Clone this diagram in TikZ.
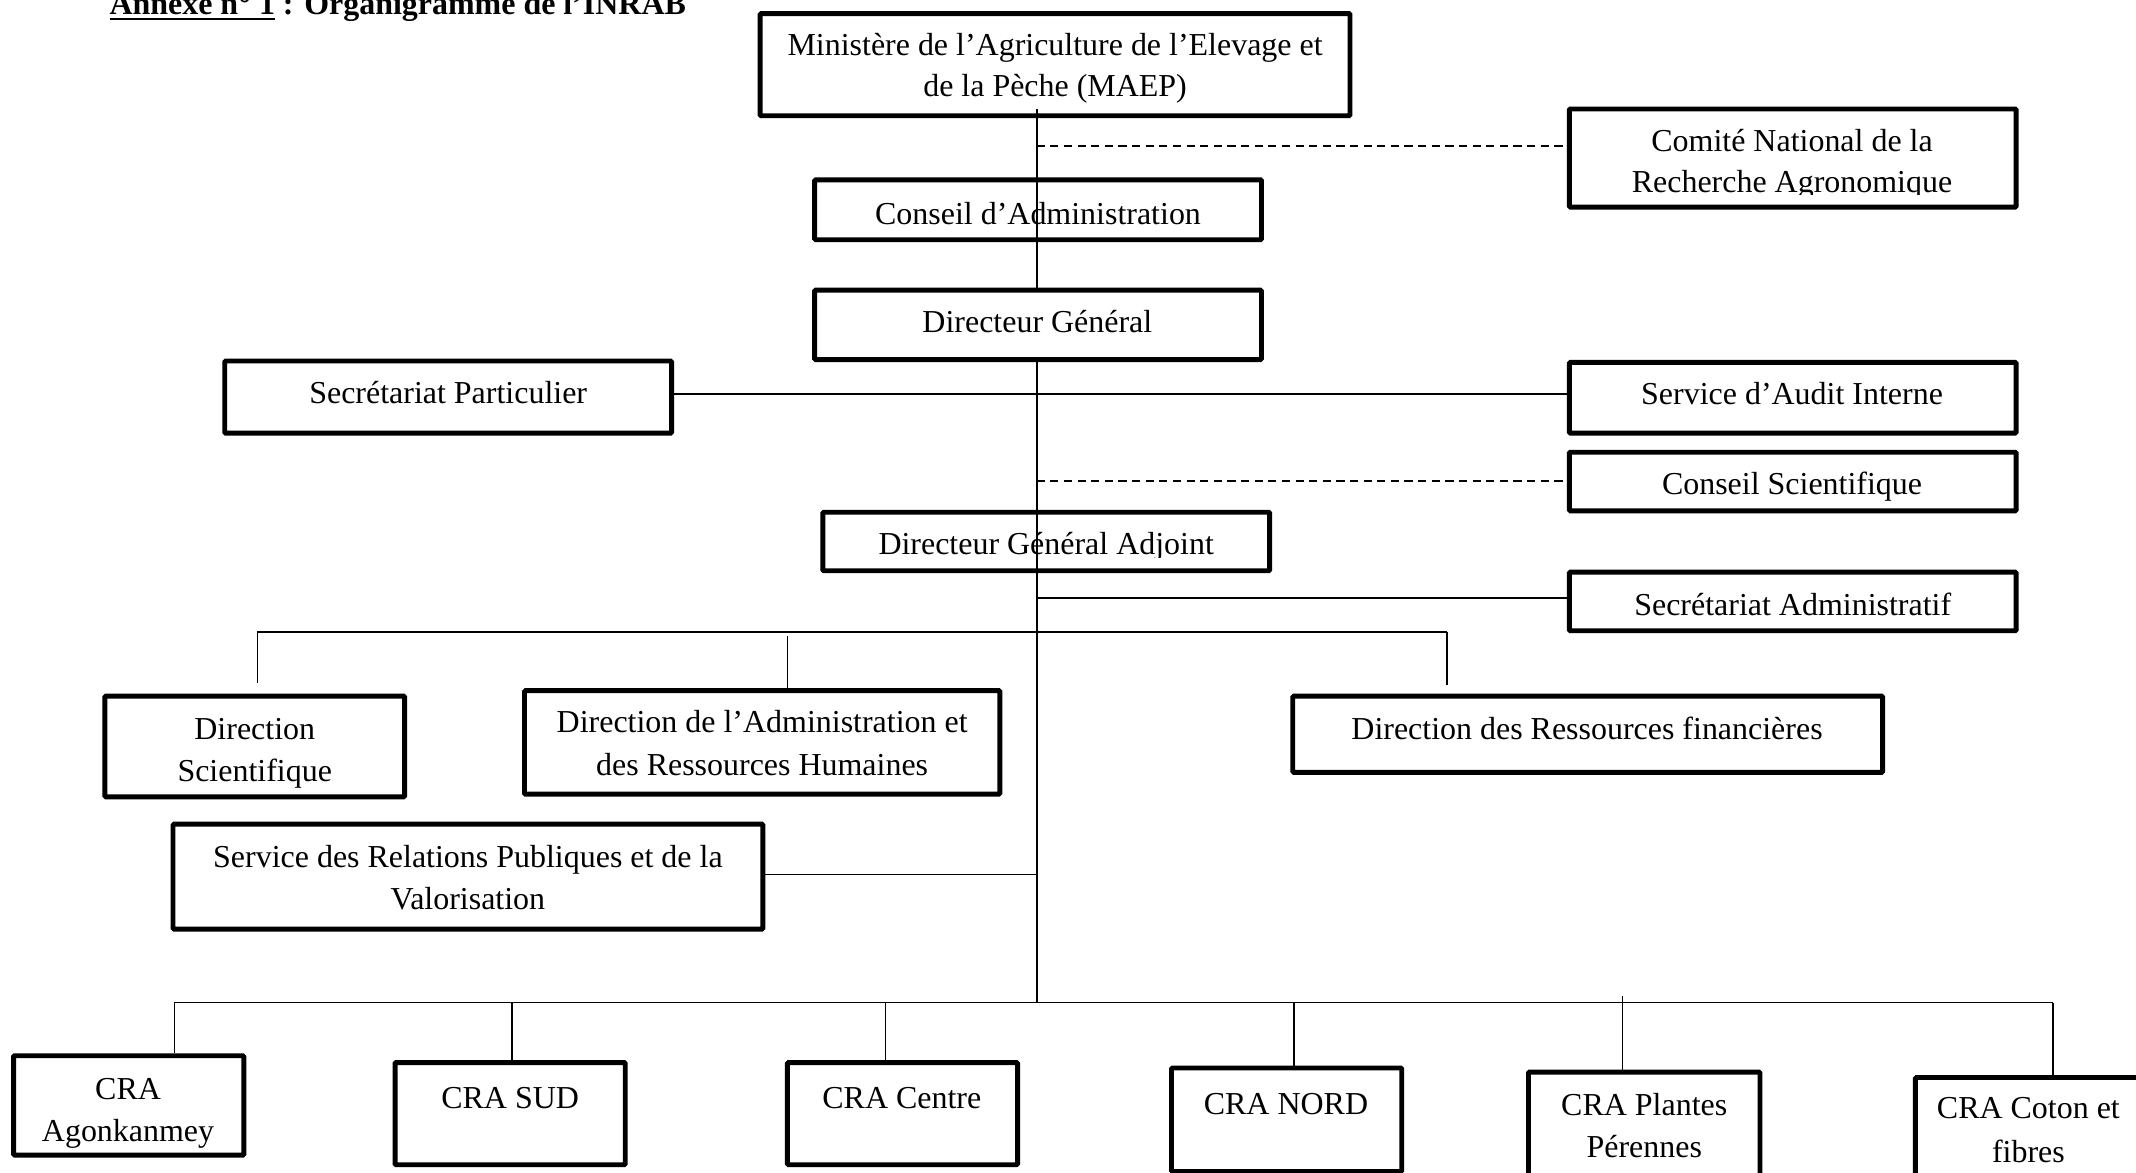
\documentclass[tikz,border=0pt]{standalone}
\usepackage{fontspec}
\setmainfont{Liberation Serif}
\usetikzlibrary{calc}
\begin{document}
\begin{tikzpicture}[x=0.5pt,y=-0.5pt,
  box/.style={draw,line width=1.8pt,inner sep=0pt,rounded corners=0.4pt},
  bsize/.style 2 args={minimum width=#1*0.5pt,minimum height=#2*0.5pt},
  txt/.style={inner sep=0pt,anchor=base,font=\fontsize{11.73pt}{15pt}\selectfont},
  conn/.style={line width=0.6pt},
  dsh/.style={line width=0.6pt,dash pattern=on 3pt off 2pt}]
\useasboundingbox (0,0) rectangle (1568,861);
\clip (0,0) rectangle (1568,861);

% title
\node[inner sep=0pt,anchor=base west,font=\fontsize{11.73pt}{15pt}\selectfont\bfseries] (title) at (80,11)
  {\setbox0\hbox{Annexe n° 1}\rlap{\rule[-2pt]{\wd0}{1pt}}\box0{} : Organigramme de l’INRAB};

% boxes (unfilled)
\node[box,bsize={433}{75}] (maep) at (774.5,47.5) {};
\node[box,bsize={328}{72}] (cnra) at (1316,116) {};
\node[box,bsize={328}{44}] (ca) at (762,154) {};
\node[box,bsize={328}{53}] (sp) at (329,291.5) {};
\node[box,bsize={328}{52}] (sai) at (1316,292) {};
\node[box,bsize={328}{43}] (cs) at (1316,353.5) {};
\node[box,bsize={328}{43}] (dga) at (768,397.5) {};
\node[box,bsize={328}{43}] (sa) at (1316,441.5) {};
\node[box,bsize={220}{74}] (ds) at (187,548) {};
\node[box,bsize={349}{76}] (darh) at (559.5,545) {};
\node[box,bsize={433}{56}] (drf) at (1165.5,539) {};
\node[box,bsize={433}{77}] (srpv) at (343.5,643.5) {};
\node[box,bsize={169}{73}] (cra1) at (94.5,811.5) {};
\node[box,bsize={169}{75}] (cra2) at (374.5,817.5) {};
\node[box,bsize={169}{75}] (cra3) at (662.5,817.5) {};
\node[box,bsize={169}{76}] (cra4) at (944.5,822) {};
\node[box,bsize={170}{80}] (cra5) at (1207,827) {};
\node[box,bsize={168}{80}] (cra6) at (1490,831) {};

% texts
\node[txt] (t-maep-1) at (774.5,41) {Ministère de l’Agriculture de l’Elevage et};
\node[txt] (t-maep-2) at (774.5,71) {de la Pèche (MAEP)};
\begin{scope}
  \clip (1150,70) rectangle (1482,143);
  \node[txt] (t-cnra-1) at (1315.5,111) {Comité National de la};
  \node[txt] (t-cnra-2) at (1315.5,141) {Recherche Agronomique};
\end{scope}
\node[txt] (t-ca) at (762,165) {Conseil d’Administration};
\node[txt] (t-sp) at (329,296) {Secrétariat Particulier};
\node[txt] (t-sai) at (1315.5,297) {Service d’Audit Interne};
\node[txt] (t-cs) at (1315.5,363) {Conseil Scientifique};
\begin{scope}
  \clip (600,370) rectangle (936,409.5);
  \node[txt] (t-dga) at (768,407) {Directeur Général Adjoint};
\end{scope}
\node[txt] (t-sa) at (1316,452) {Secrétariat Administratif};
\node[txt] (t-ds-1) at (187,543) {Direction};
\node[txt] (t-ds-2) at (187,574) {Scientifique};
\node[txt] (t-darh-1) at (559.5,538) {Direction de l’Administration et};
\node[txt] (t-darh-2) at (559.5,569) {des Ressources Humaines};
\node[txt] (t-drf) at (1165,543) {Direction des Ressources financières};
\node[txt] (t-srpv-1) at (343.5,637) {Service des Relations Publiques et de la};
\node[txt] (t-srpv-2) at (343.5,668) {Valorisation};
\node[txt] (t-cra1-1) at (94,807) {CRA};
\node[txt] (t-cra1-2) at (94,838) {Agonkanmey};
\node[txt] (t-cra2) at (374.5,814) {CRA SUD};
\node[txt] (t-cra3) at (662,814) {CRA Centre};
\node[txt] (t-cra4) at (944,818) {CRA NORD};
\node[txt] (t-cra5-1) at (1207,819) {CRA Plantes};
\node[txt] (t-cra5-2) at (1207,850) {Pérennes};
\node[txt] (t-cra6-1) at (1489,821) {CRA Coton et};
\node[txt] (t-cra6-2) at (1489,853) {fibres};

% connectors
\coordinate (top) at (761,80);
\coordinate (bot) at (761,736);
\draw[conn] (top) -- (bot);
\coordinate (jc) at (761,107);
\draw[dsh] (jc) -- (jc -| cnra.west);
\coordinate (jsp) at (761,289);
\draw[conn] (jsp -| sp.east) -- (jsp -| sai.west);
\coordinate (jcs) at (761,353);
\draw[dsh] (jcs) -- (jcs -| cs.west);
\coordinate (jsa) at (761,439);
\draw[conn] (jsa) -- (jsa -| sa.west);
\coordinate (b1l) at (189,464);
\coordinate (b1r) at (1062,464);
\draw[conn] (b1l) -- (b1r);
\draw[conn,shorten >=4pt] (b1l) -- (b1l |- ds.north);
\coordinate (d12) at (578,467);
\draw[conn] (d12) -- (d12 |- darh.north);
\draw[conn,shorten >=3pt] (b1r) -- (b1r |- drf.north);
\coordinate (jsr) at (761,642);
\draw[conn] (jsr -| srpv.east) -- (jsr);
\coordinate (b2l) at (128,736);
\coordinate (b2r) at (1507,736);
\draw[conn] (b2l) -- (b2r);
\draw[conn] (b2l) -- (b2l |- cra1.north);
\coordinate (d22) at (376,736);
\draw[conn] (d22) -- (d22 |- cra2.north);
\coordinate (d23) at (650,736);
\draw[conn] (d23) -- (d23 |- cra3.north);
\coordinate (d24) at (950,736);
\draw[conn] (d24) -- (d24 |- cra4.north);
\coordinate (d25) at (1191,731);
\draw[conn] (d25) -- (d25 |- cra5.north);
\draw[conn] (b2r) -- (b2r |- cra6.north);

% Directeur General box (filled, hides the spine)
\node[box,fill=white,bsize={328}{51}] (dg) at (762,238.5) {};
\node[txt] (t-dg) at (761.5,244) {Directeur Général};
\end{tikzpicture}
\end{document}
